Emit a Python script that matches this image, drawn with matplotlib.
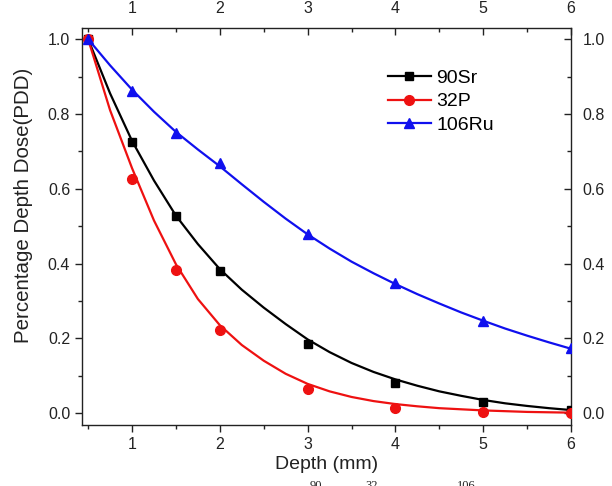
import matplotlib
matplotlib.use("Agg")
import matplotlib.pyplot as plt
from matplotlib.ticker import MultipleLocator

plt.rcParams['font.family'] = ['Liberation Sans', 'DejaVu Sans']

# measured points
depth = [0.5, 1, 1.5, 2, 3, 4, 5, 6]
sr90 = [1.0, 0.725, 0.528, 0.380, 0.185, 0.080, 0.030, 0.008]
p32 = [1.0, 0.627, 0.383, 0.222, 0.063, 0.013, 0.002, 0.0]
ru106 = [1.0, 0.862, 0.750, 0.668, 0.478, 0.347, 0.247, 0.173]

# fitted curves
fit_depth = [0.5, 0.75, 1, 1.25, 1.5, 1.75, 2, 2.25, 2.5, 2.75, 3, 3.25,
             3.5, 3.75, 4, 4.25, 4.5, 4.75, 5, 5.25, 5.5, 5.75, 6]
sr90_fit = [1.0, 0.855, 0.728, 0.622, 0.528, 0.452, 0.385, 0.330, 0.282,
            0.238, 0.197, 0.163, 0.134, 0.110, 0.090, 0.073, 0.058, 0.046,
            0.035, 0.026, 0.019, 0.013, 0.008]
p32_fit = [1.0, 0.810, 0.655, 0.515, 0.398, 0.305, 0.235, 0.182, 0.140,
           0.105, 0.078, 0.058, 0.043, 0.032, 0.024, 0.018, 0.013, 0.010,
           0.007, 0.005, 0.003, 0.002, 0.001]
ru106_fit = [1.0, 0.930, 0.865, 0.806, 0.752, 0.705, 0.660, 0.612, 0.565,
             0.520, 0.478, 0.440, 0.405, 0.374, 0.345, 0.318, 0.293, 0.269,
             0.247, 0.226, 0.207, 0.189, 0.172]

labels = ['90Sr', '32P', '106Ru']
colors = ['black', '#ee1111', '#1010ee']
markers = ['s', 'o', '^']
sizes = [5.5, 7, 7]

fig = plt.figure(figsize=(6.12, 4.86), dpi=100)
ax = fig.add_axes([82 / 612, 61 / 486, 489 / 612, 397 / 486])

series = [(sr90, sr90_fit), (p32, p32_fit), (ru106, ru106_fit)]
for (pts, fit), lab, c, m, ms in zip(series, labels, colors, markers, sizes):
    ax.plot(fit_depth, fit, color=c, lw=1.6, zorder=2)
    ax.plot(depth, pts, ls='none', marker=m, color=c, ms=ms, zorder=3)
    ax.plot([], [], color=c, lw=1.6, marker=m, ms=ms, label=lab)

ax.set_xlim(0.43, 6)
ax.set_ylim(-0.032, 1.03)
ax.xaxis.set_major_locator(MultipleLocator(1))
ax.xaxis.set_minor_locator(MultipleLocator(0.5))
ax.yaxis.set_major_locator(MultipleLocator(0.2))
ax.yaxis.set_minor_locator(MultipleLocator(0.1))
ax.yaxis.set_major_formatter(plt.FormatStrFormatter('%.1f'))

ax.tick_params(which='both', direction='out', labelsize=11.5, width=1.0,
               colors='#222222')
ax.tick_params(which='major', length=5)
ax.tick_params(which='minor', length=3)
ax.tick_params(which='both', top=True, right=True, labeltop=True, labelright=True)
# top and right ticks point inward
for t in ax.xaxis.get_major_ticks() + ax.xaxis.get_minor_ticks():
    t.tick2line.set_marker(3)
for t in ax.yaxis.get_major_ticks() + ax.yaxis.get_minor_ticks():
    t.tick2line.set_marker(0)
for s in ax.spines.values():
    s.set_linewidth(1.0)
    s.set_color('#222222')

ax.set_xlabel('Depth (mm)', fontsize=14, labelpad=3, color='#222222')
ax.set_ylabel('Percentage Depth Dose(PDD)', fontsize=14.8, color='#222222')
ax.yaxis.set_label_coords(-0.10, 0.552)

ax.legend(loc='upper left', bbox_to_anchor=(0.59, 0.94), frameon=False,
          fontsize=14, handlelength=2.2, handletextpad=0.3, labelspacing=0.3)

# cut-off caption below the figure (only superscripts show)
for xp, s in [(316, '90'), (372, '32'), (466, '106')]:
    fig.text(xp / 612, 6 / 486, s, fontsize=9, ha='center', va='top',
             family='Liberation Serif', color='#222222')

fig.savefig('out.png', dpi=100)
